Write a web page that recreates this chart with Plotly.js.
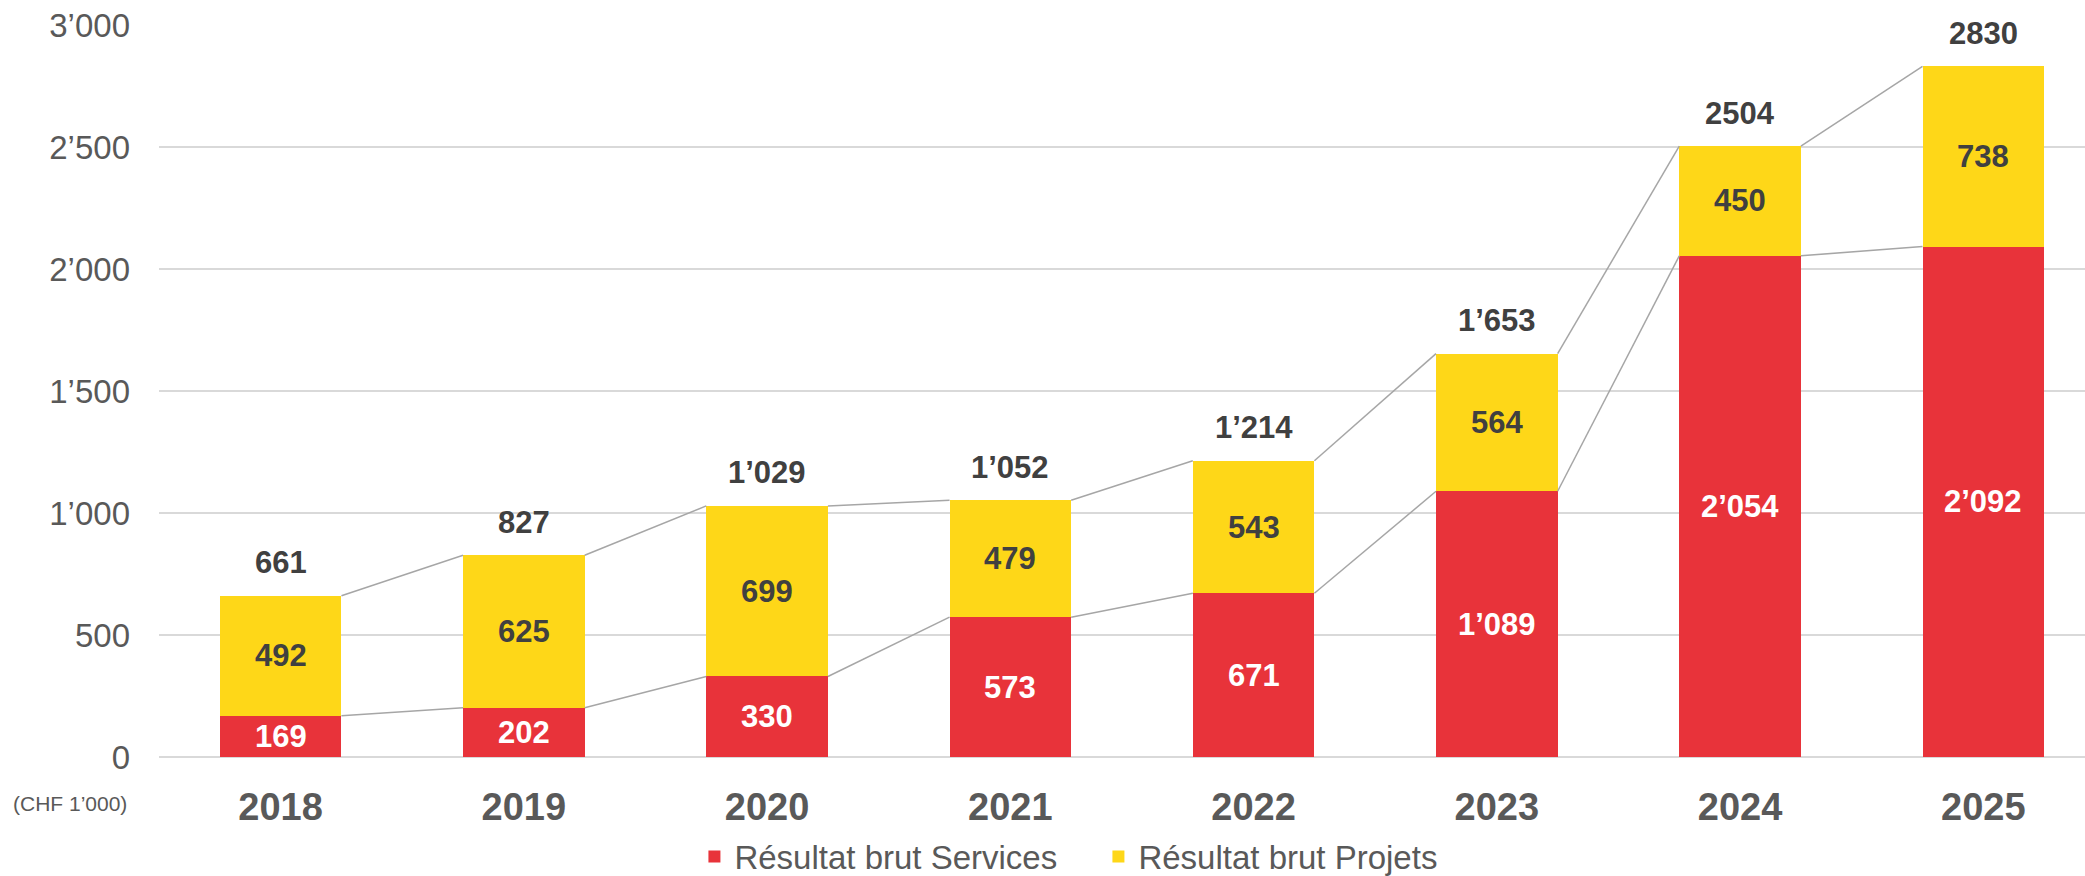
<!DOCTYPE html>
<html>
<head>
<meta charset="utf-8">
<script src="https://cdn.plot.ly/plotly-3.0.1.min.js"></script>
<style>
  html, body { margin: 0; padding: 0; background: #ffffff; }
  #chart { width: 2085px; height: 876px; }
</style>
</head>
<body>
<div id="chart"></div>
<script>
// ---- Data ----
const years = ["2018", "2019", "2020", "2021", "2022", "2023", "2024", "2025"];
const services = [169, 202, 330, 573, 671, 1089, 2054, 2092];
const projets = [492, 625, 699, 479, 543, 564, 450, 738];
const totals = [661, 827, 1029, 1052, 1214, 1653, 2504, 2830];
const servicesLabels = ["169", "202", "330", "573", "671", "1\u2019089", "2\u2019054", "2\u2019092"];
const projetsLabels = ["492", "625", "699", "479", "543", "564", "450", "738"];
const totalLabels = ["661", "827", "1\u2019029", "1\u2019052", "1\u2019214", "1\u2019653", "2504", "2830"];
const yTickVals = [0, 500, 1000, 1500, 2000, 2500, 3000];
const yTickText = ["0", "500", "1\u2019000", "1\u2019500", "2\u2019000", "2\u2019500", "3\u2019000"];
const seriesNames = ["R\u00e9sultat brut Services", "R\u00e9sultat brut Projets"];
const unitLabel = "(CHF 1\u2019000)";

// ---- Styling ----
const RED = "#E8333A";
const YELLOW = "#FED718";
const DARK = "#404040";
const GREY = "#595959";
const LINE = "#A6A6A6";
const FONT = "Liberation Sans, Arial, sans-serif";
const halfBar = 0.25;

const xIdx = years.map((_, i) => i);

// connector lines (from right edge of bar i to left edge of bar i+1)
function connector(vals) {
  const xs = [], ys = [];
  for (let i = 0; i < vals.length - 1; i++) {
    xs.push(i + halfBar, i + 1 - halfBar, null);
    ys.push(vals[i], vals[i + 1], null);
  }
  return { xs, ys };
}
const cS = connector(services);
const cT = connector(totals);

const traces = [
  {
    type: "bar", name: seriesNames[0], x: xIdx, y: services,
    marker: { color: RED }, hoverinfo: "skip"
  },
  {
    type: "bar", name: seriesNames[1], x: xIdx, y: projets,
    marker: { color: YELLOW }, hoverinfo: "skip"
  },
  {
    type: "scatter", mode: "lines", x: cS.xs, y: cS.ys, connectgaps: false,
    line: { color: LINE, width: 1.5 }, showlegend: false, hoverinfo: "skip"
  },
  {
    type: "scatter", mode: "lines", x: cT.xs, y: cT.ys, connectgaps: false,
    line: { color: LINE, width: 1.5 }, showlegend: false, hoverinfo: "skip"
  }
];

const annotations = [];
xIdx.forEach(i => {
  annotations.push({
    x: i, y: services[i] / 2, xref: "x", yref: "y", text: servicesLabels[i],
    showarrow: false, xanchor: "center", yanchor: "middle",
    font: { family: FONT, size: 31, color: "#ffffff", weight: 700 }
  });
  annotations.push({
    x: i, y: services[i] + projets[i] / 2, xref: "x", yref: "y", text: projetsLabels[i],
    showarrow: false, xanchor: "center", yanchor: "middle",
    font: { family: FONT, size: 31, color: DARK, weight: 700 }
  });
  annotations.push({
    x: i, y: totals[i], xref: "x", yref: "y", text: totalLabels[i],
    showarrow: false, xanchor: "center", yanchor: "middle", yshift: 33,
    font: { family: FONT, size: 31, color: DARK, weight: 700 }
  });
});
annotations.push({
  x: -0.0155, y: -0.063, xref: "paper", yref: "paper", text: unitLabel,
  showarrow: false, xanchor: "right", yanchor: "middle",
  font: { family: FONT, size: 21, color: GREY }
});

const layout = {
  width: 2085, height: 876,
  margin: { l: 159, r: 0, t: 25, b: 119, pad: 0, autoexpand: false },
  paper_bgcolor: "#ffffff", plot_bgcolor: "#ffffff",
  barmode: "stack", bargap: 0.5,
  font: { family: FONT, color: GREY },
  showlegend: true,
  legend: {
    orientation: "h", x: 0.278, xanchor: "left", y: -0.1743, yanchor: "bottom",
    bgcolor: "rgba(0,0,0,0)",
    font: { family: FONT, size: 33, color: GREY },
    entrywidth: 359, entrywidthmode: "pixels",
    itemsizing: "constant", traceorder: "normal"
  },
  xaxis: {
    type: "linear", range: [-0.5, 7.418],
    tickvals: xIdx, ticktext: years,
    showgrid: false, zeroline: false, showline: false, ticks: "",
    ticklabelstandoff: 24,
    tickfont: { family: FONT, size: 38, color: GREY, weight: 700 },
    fixedrange: true
  },
  yaxis: {
    range: [0, 3000], tickvals: yTickVals, ticktext: yTickText,
    showgrid: true, gridcolor: "#D9D9D9", gridwidth: 1.5,
    zeroline: true, zerolinecolor: "#D9D9D9", zerolinewidth: 1.5,
    showline: false, ticks: "", ticklabelstandoff: 28,
    tickfont: { family: FONT, size: 33, color: GREY },
    fixedrange: true
  },
  annotations: annotations
};

Plotly.newPlot("chart", traces, layout, { staticPlot: true, displayModeBar: false });
</script>
</body>
</html>
